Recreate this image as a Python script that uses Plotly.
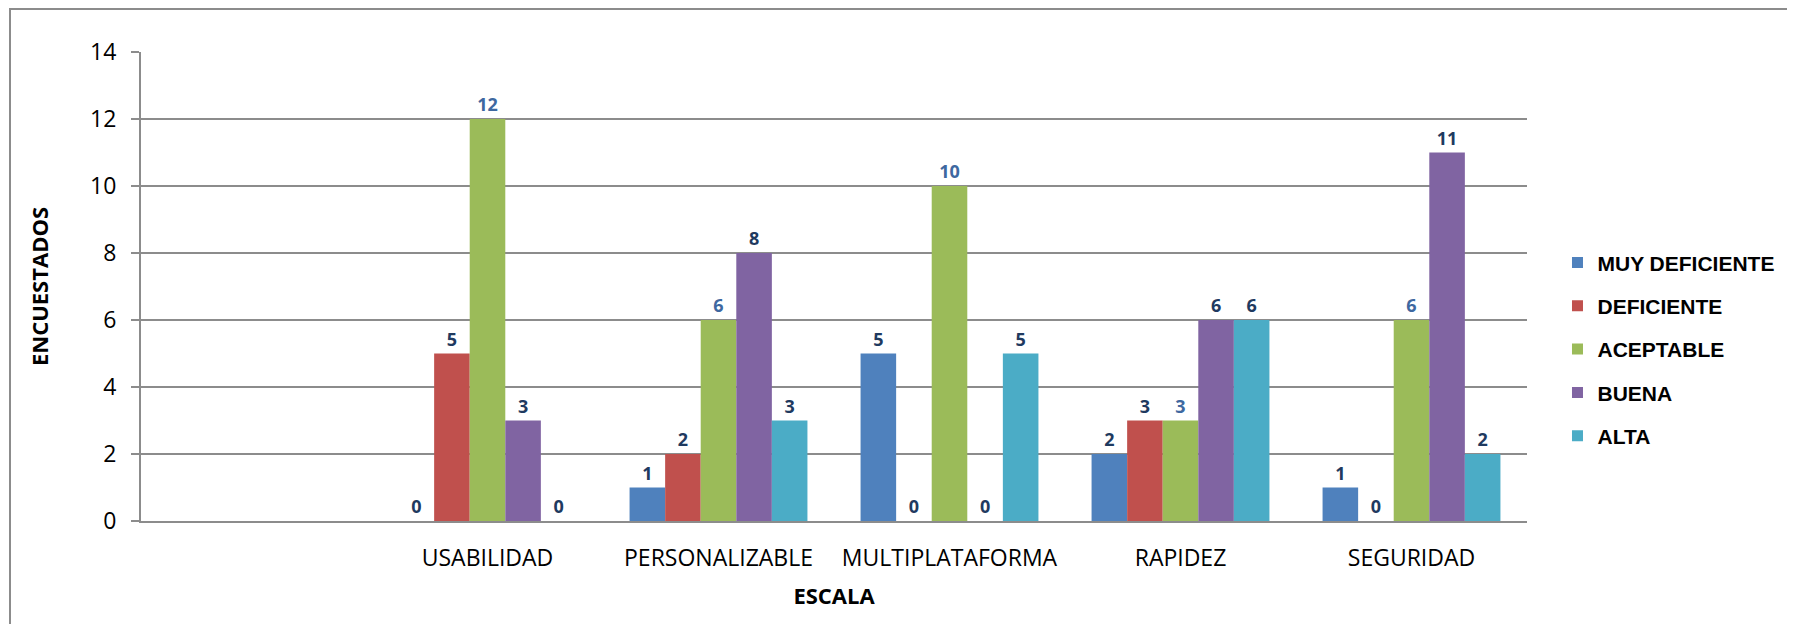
import plotly.graph_objects as go

# ---------------------------------------------------------
# Data
# ---------------------------------------------------------
CATEGORIES = ["USABILIDAD", "PERSONALIZABLE", "MULTIPLATAFORMA", "RAPIDEZ", "SEGURIDAD"]
SERIES = ["MUY DEFICIENTE", "DEFICIENTE", "ACEPTABLE", "BUENA", "ALTA"]

MUY_DEFICIENTE = [0, 1, 5, 2, 1]
DEFICIENTE = [5, 2, 0, 3, 0]
ACEPTABLE = [12, 6, 10, 3, 6]
BUENA = [3, 8, 0, 6, 11]
ALTA = [0, 3, 5, 6, 2]

VALUES = [MUY_DEFICIENTE, DEFICIENTE, ACEPTABLE, BUENA, ALTA]
COLORS = ["#4F81BD", "#C0504D", "#9BBB59", "#8064A2", "#4BACC6"]
LABEL_COLORS = ["#1F3A60", "#1F3A60", "#3E68A0", "#1F3A60", "#1F3A60"]

# page has an 8px body margin, so the figure sits at (8, 8)
W, H = 1795, 624
OFF = 8
L, R, T, B = 141 - OFF, W - 1527 + OFF, 52 - OFF, H - 521 + OFF

GRAY = "#8C8C8C"
FONT = "Open Sans"

fig = go.Figure()

for name, vals, col, lcol in zip(SERIES, VALUES, COLORS, LABEL_COLORS):
    fig.add_trace(go.Bar(
        name=name,
        x=CATEGORIES,
        y=vals,
        marker=dict(color=col, line=dict(width=0)),
        text=[str(v) for v in vals],
        textposition="outside",
        cliponaxis=False,
        textfont=dict(family=FONT, size=18, color=lcol, weight="bold"),
        showlegend=False,
    ))

# small square legend keys
for name, col in zip(SERIES, COLORS):
    fig.add_trace(go.Scatter(
        name=name,
        legendgroup=name,
        x=[None],
        y=[None],
        mode="markers",
        marker=dict(color=col, symbol="square", size=11),
        showlegend=True,
    ))

# frame around the chart area (top and left edges visible)
pw = W - L - R
ph = H - T - B
fig.add_shape(
    type="rect", xref="paper", yref="paper",
    x0=(2 - L) / pw, x1=(W + 20 - L) / pw,
    y0=-(H + 20 - T - ph) / ph, y1=(H - B - 1) / ph,
    line=dict(color=GRAY, width=2), layer="below",
)

fig.update_layout(
    width=W,
    height=H,
    barmode="group",
    bargap=0.23,
    bargroupgap=0,
    paper_bgcolor="white",
    plot_bgcolor="white",
    margin=dict(l=L, r=R, t=T, b=B),
    font=dict(family=FONT, color="#000000"),
    showlegend=True,
    legend=dict(
        x=1.022, xanchor="left",
        y=0.366, yanchor="middle",
        font=dict(family="Liberation Sans", size=21, color="#000000", weight="bold"),
        itemwidth=30,
        tracegroupgap=13,
        traceorder="grouped",
    ),
)

fig.update_xaxes(
    type="category",
    categoryorder="array",
    categoryarray=[" "] + CATEGORIES,
    range=[-0.5, len(CATEGORIES) + 0.5],
    showgrid=False,
    showline=True,
    linecolor=GRAY,
    linewidth=2,
    ticks="",
    ticklabelstandoff=15,
    tickfont=dict(family=FONT, size=23, color="#000000"),
    title=dict(text="<b>ESCALA</b>", font=dict(family=FONT, size=22, color="#000000"), standoff=17),
)

fig.update_yaxes(
    range=[0, 14],
    dtick=2,
    showgrid=True,
    gridcolor=GRAY,
    gridwidth=2,
    showline=True,
    linecolor=GRAY,
    linewidth=2,
    ticks="outside",
    ticklen=8,
    tickcolor=GRAY,
    tickwidth=2,
    zeroline=False,
    ticklabelstandoff=10,
    tickfont=dict(family=FONT, size=23, color="#000000"),
    title=dict(text="<b>ENCUESTADOS</b>", font=dict(family=FONT, size=22, color="#000000"), standoff=35),
)

fig.write_html("out.html")
